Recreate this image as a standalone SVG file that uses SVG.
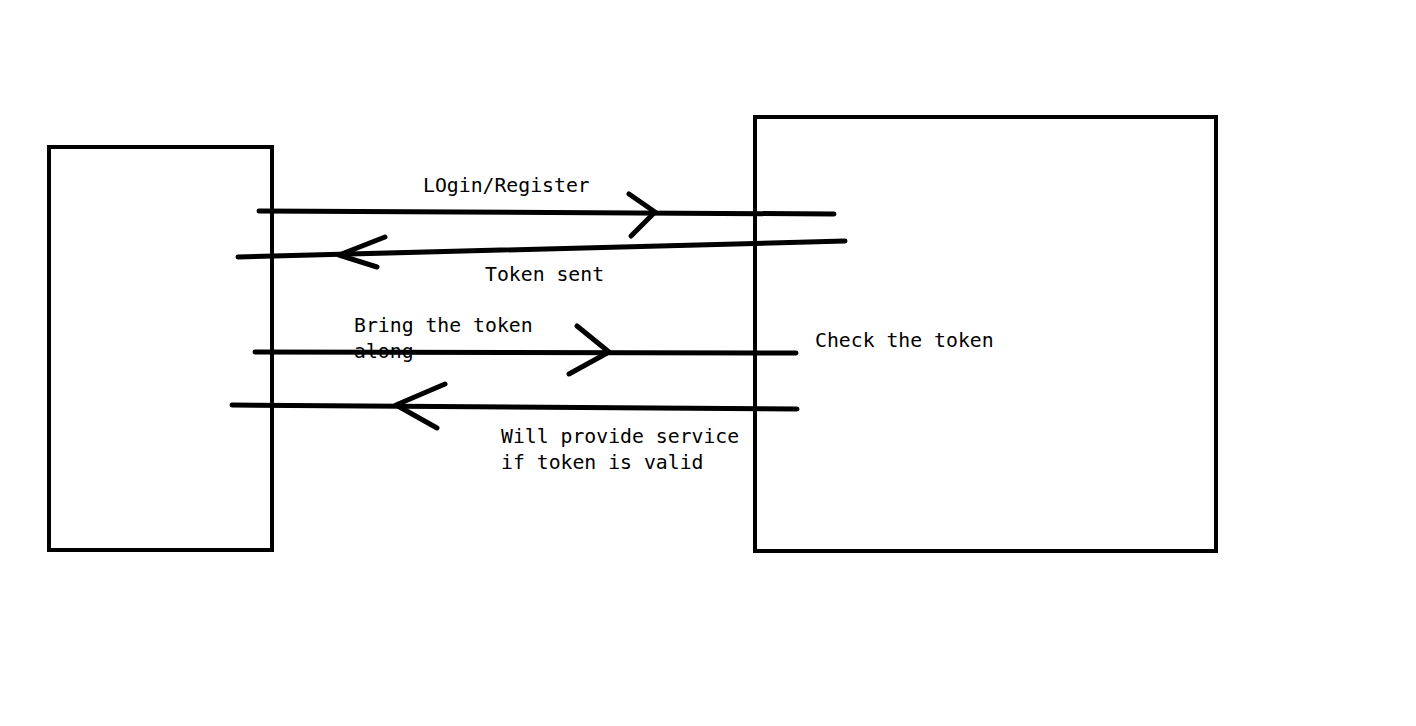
<svg xmlns="http://www.w3.org/2000/svg" width="1416" height="726" viewBox="0 0 1416 726">
<style>
.box{fill:none;stroke:#000;stroke-width:4}
.ln{fill:none;stroke:#000;stroke-width:5;stroke-linecap:round;stroke-linejoin:round}
text{font-family:"DejaVu Sans Mono","Liberation Mono",monospace;font-size:19.8px;fill:#000}
</style>
<rect width="1416" height="726" fill="#fff"/>
<g id="client"><rect class="box" x="49" y="147" width="223" height="403"/></g>
<g id="server"><rect class="box" x="755" y="117" width="461" height="434"/><text x="815" y="347">Check the token</text></g>
<g id="labels">
<text x="423" y="192">LOgin/Register</text>
<text x="485" y="281">Token sent</text>
<text x="354" y="332">Bring the token</text>
<text x="354" y="358">along</text>
<text x="501" y="443">Will provide service</text>
<text x="501" y="469">if token is valid</text>
</g>
<g id="connectors">
<path class="ln" d="M259 211 L834 214"/>
<path class="ln" d="M629 194 L655 212 L631 236"/>
<path class="ln" d="M845 241 L238 257"/>
<path class="ln" d="M385 237 L339 255 L377 267"/>
<path class="ln" d="M255 352 L796 353"/>
<path class="ln" d="M577 326 L609 352 L569 374"/>
<path class="ln" d="M797 409 L232 405"/>
<path class="ln" d="M445 384 L396 405 L437 428"/>
</g>
</svg>
